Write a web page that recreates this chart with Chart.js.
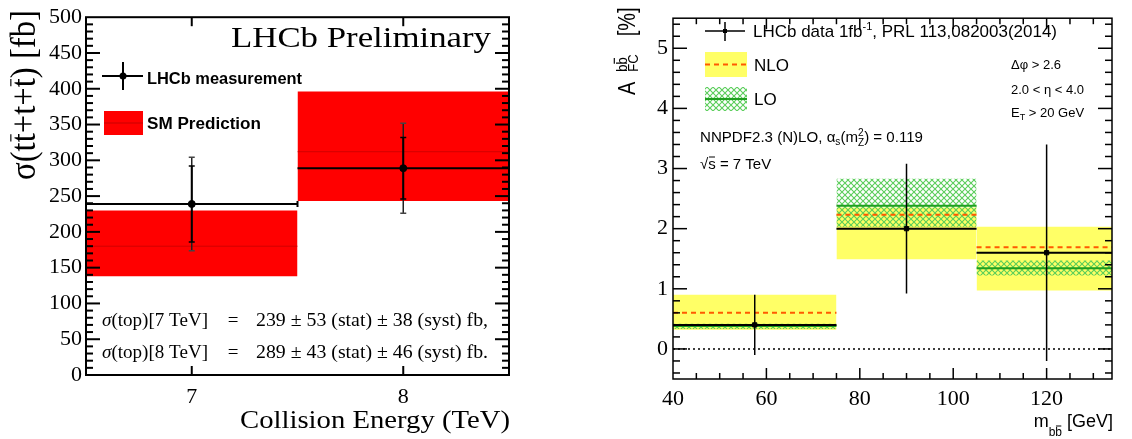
<!DOCTYPE html>
<html>
<head>
<meta charset="utf-8">
<script src="https://cdn.jsdelivr.net/npm/chart.js@4.4.1/dist/chart.umd.min.js"></script>
<style>
html, body { margin: 0; padding: 0; background: #fff; }
#page { position: relative; width: 1132px; height: 439px; overflow: hidden; }
#left-wrap { position: absolute; left: 0; top: 0; width: 560px; height: 439px; }
#right-wrap { position: absolute; left: 560px; top: 0; width: 572px; height: 439px; }
</style>
</head>
<body>
<div id="page">
    <div id="left-wrap"><canvas id="top-chart"></canvas></div>
    <div id="right-wrap"><canvas id="afc-chart"></canvas></div>
</div>
<script>
// ---- left panel: top cross-section vs collision energy ----
const energies = [7, 8];
const energyBinLo = [6.5, 7.5];
const energyBinHi = [7.5, 8.5];
const measured = [239, 289];
const statErr = [53, 43];
const systErr = [38, 46];
const smCentral = [180, 312];
const smLow = [138, 243];
const smHigh = [230, 396];
const leftXTicks = [7, 8];
const leftYTicks = [0, 50, 100, 150, 200, 250, 300, 350, 400, 450, 500];

// ---- right panel: forward-central asymmetry vs m(bb) ----
const massBinLo = [40, 75, 105];
const massBinHi = [75, 105, 135];
const massCenters = [57.5, 90, 120];
const afcData = [0.4, 2.0, 1.6];
const afcErr = [0.5, 1.08, 1.8];
const nloCentral = [0.6, 2.23, 1.69];
const nloLow = [0.32, 1.49, 0.97];
const nloHigh = [0.9, 2.35, 2.03];
const loCentral = [0.38, 2.38, 1.34];
const loLow = [0.33, 2.03, 1.22];
const loHigh = [0.42, 2.83, 1.47];
const zeroLine = [0, 0];
const rightXRange = [40, 134];
const rightXTicks = [40, 60, 80, 100, 120];
const rightYTicks = [0, 1, 2, 3, 4, 5];

const serif = '"Liberation Serif", "Times New Roman", serif';
const sans = '"Liberation Sans", Arial, Helvetica, sans-serif';
const f = (size, fam, style = '') => `${style} ${size}px ${fam}`.trim();

function binSegments(los, his, vals) {
    const pts = [];
    vals.forEach((v, i) => {
        pts.push({ x: los[i], y: v }, { x: his[i], y: v }, { x: his[i], y: null });
    });
    return pts;
}

function errorSegments(xs, vals, errs) {
    const pts = [];
    vals.forEach((v, i) => {
        pts.push({ x: xs[i], y: v - errs[i] }, { x: xs[i], y: v + errs[i] }, { x: xs[i], y: null });
    });
    return pts;
}

function bandDatasets(los, his, lows, highs, color, order) {
    return highs.map((h, i) => ({
        data: [{ x: los[i], y: h }, { x: his[i], y: h }],
        fill: { target: { value: lows[i] } },
        backgroundColor: color,
        borderColor: 'transparent',
        borderWidth: 0,
        pointRadius: 0,
        order
    }));
}

function makeHatch(color) {
    const c = document.createElement('canvas');
    c.width = 6;
    c.height = 6;
    const g = c.getContext('2d');
    g.strokeStyle = color;
    g.lineWidth = 1.1;
    g.beginPath();
    g.moveTo(-1, -1); g.lineTo(7, 7);
    g.moveTo(7, -1); g.lineTo(-1, 7);
    g.stroke();
    return g.createPattern(c, 'repeat');
}

function stepValues(min, max, step) {
    const out = [];
    const start = Math.ceil(min / step - 1e-9) * step;
    for (let v = start; v <= max + 1e-9; v += step) out.push(+v.toFixed(6));
    return out;
}

// text with sub/superscripts, optional stretch
function drawRuns(ctx, runs, x, y, opts = {}) {
    ctx.save();
    let cx = 0;
    let markX = 0;
    const placed = runs.map((r) => {
        ctx.font = r.font;
        const w = ctx.measureText(r.t).width;
        if (r.pad) cx += r.pad;
        if (r.mark) markX = cx;
        const x0 = r.back ? markX : cx;
        cx = r.back ? Math.max(cx, markX + w) : x0 + w;
        return { ...r, x: x0, w };
    });
    const width = cx;
    const sx = opts.width ? opts.width / width : (opts.sx || 1);
    ctx.translate(x, y);
    if (opts.rotate) ctx.rotate(opts.rotate);
    ctx.scale(sx, opts.sy || 1);
    let ox = 0;
    if (opts.align === 'right') ox = -width;
    if (opts.align === 'center') ox = -width / 2;
    ctx.fillStyle = '#000';
    ctx.strokeStyle = '#000';
    ctx.textAlign = 'left';
    ctx.textBaseline = 'alphabetic';
    placed.forEach((p) => {
        ctx.font = p.font;
        const px = ox + p.x;
        const py = p.dy || 0;
        ctx.fillText(p.t, px, py);
        if (p.over) {
            ctx.lineWidth = 1;
            ctx.beginPath();
            ctx.moveTo(px + p.w * 0.1, py + p.over);
            ctx.lineTo(px + p.w * 0.9, py + p.over);
            ctx.stroke();
        }
    });
    ctx.restore();
}

function makeFrame(cfg) {
    return {
        id: 'rootFrame',
        afterDatasetsDraw(chart) {
            const { ctx, chartArea: a, scales: { x, y } } = chart;
            ctx.save();
            ctx.strokeStyle = '#000';
            ctx.lineWidth = cfg.tickWidth;
            const line = (x1, y1, x2, y2) => {
                ctx.beginPath(); ctx.moveTo(x1, y1); ctx.lineTo(x2, y2); ctx.stroke();
            };
            const yTick = (v, len) => {
                const py = y.getPixelForValue(v);
                if (py < a.top + 1 || py > a.bottom - 1) return;
                line(a.left, py, a.left + len, py);
                line(a.right, py, a.right - len, py);
            };
            const xTick = (v, len) => {
                const px = x.getPixelForValue(v);
                if (px < a.left + 1 || px > a.right - 1) return;
                line(px, a.bottom, px, a.bottom - len);
                line(px, a.top, px, a.top + len);
            };
            cfg.yMajor.forEach((v) => yTick(v, cfg.yMajorLen));
            if (cfg.yMinorStep) {
                stepValues(y.min, y.max, cfg.yMinorStep)
                    .filter((v) => !cfg.yMajor.some((m) => Math.abs(m - v) < 1e-6))
                    .forEach((v) => yTick(v, cfg.yMinorLen));
            }
            cfg.xMajor.forEach((v) => xTick(v, cfg.xMajorLen));
            if (cfg.xMinorStep) {
                stepValues(x.min, x.max, cfg.xMinorStep)
                    .filter((v) => !cfg.xMajor.some((m) => Math.abs(m - v) < 1e-6))
                    .forEach((v) => xTick(v, cfg.xMinorLen));
            }
            ctx.lineWidth = cfg.frameWidth;
            ctx.strokeRect(a.left, a.top, a.right - a.left, a.bottom - a.top);
            ctx.restore();
        }
    };
}

function tickOpts(padding) {
    return {
        color: '#000',
        font: { family: serif, size: 22 },
        padding,
        autoSkip: false,
        maxRotation: 0,
        callback: (v) => String(v)
    };
}

// ---------- left chart ----------
function drawLeftText(chart) {
    const ctx = chart.ctx;
    drawRuns(ctx, [{ t: 'LHCb Preliminary', font: f(30, serif) }], 491, 47, { align: 'right', width: 260 });

    // legend
    ctx.save();
    ctx.strokeStyle = '#000';
    ctx.lineWidth = 2;
    ctx.beginPath();
    ctx.moveTo(102, 76); ctx.lineTo(143, 76);
    ctx.moveTo(123, 62); ctx.lineTo(123, 90);
    ctx.stroke();
    ctx.fillStyle = '#000';
    ctx.beginPath(); ctx.arc(123, 76, 3.5, 0, Math.PI * 2); ctx.fill();
    ctx.fillStyle = '#ff0000';
    ctx.fillRect(104, 111, 39, 24);
    ctx.strokeStyle = 'rgba(150,0,0,0.5)';
    ctx.lineWidth = 1;
    ctx.beginPath(); ctx.moveTo(104, 123); ctx.lineTo(143, 123); ctx.stroke();
    ctx.restore();
    drawRuns(ctx, [{ t: 'LHCb measurement', font: f(16, sans, 'bold') }], 147, 84, { width: 155 });
    drawRuns(ctx, [{ t: 'SM Prediction', font: f(16, sans, 'bold') }], 147, 129, { width: 114 });

    // result lines
    const baselines = [326, 358];
    energies.forEach((e, i) => {
        const b = baselines[i];
        drawRuns(ctx, [
            { t: 'σ', font: f(19, serif, 'italic') },
            { t: `(top)[${e} TeV]`, font: f(19, serif) }
        ], 102, b, { width: 106 });
        drawRuns(ctx, [{ t: '=', font: f(19, serif) }], 233, b, { align: 'center' });
        const tail = i === energies.length - 1 ? 'fb.' : 'fb,';
        drawRuns(ctx, [
            { t: `${measured[i]} ± ${statErr[i]} (stat) ± ${systErr[i]} (syst) ${tail}`, font: f(19, serif) }
        ], 256, b, { width: 232 });
    });

    // axis titles
    drawRuns(ctx, [{ t: 'Collision Energy (TeV)', font: f(26, serif) }], 510, 428, { align: 'right', width: 270 });
    drawRuns(ctx, [
        { t: 'σ(t', font: f(31, serif) },
        { t: 't', font: f(31, serif), over: -21 },
        { t: '+t+', font: f(31, serif) },
        { t: 't', font: f(31, serif), over: -21 },
        { t: ') [fb]', font: f(31, serif) }
    ], 35, 180, { rotate: -Math.PI / 2, width: 170, sy: 1.15 });
}

const totalErr = statErr.map((s, i) => Math.sqrt(s * s + systErr[i] * systErr[i]));

new Chart(document.getElementById('top-chart'), {
    type: 'line',
    data: {
        datasets: [
            {
                data: energies.map((e, i) => ({ x: e, y: measured[i] })),
                showLine: false,
                pointStyle: 'circle',
                pointRadius: 3.5,
                pointBackgroundColor: '#000',
                pointBorderColor: '#000',
                order: 0
            },
            {
                data: errorSegments(energies, measured, statErr),
                borderColor: '#000',
                borderWidth: 2,
                pointStyle: 'line',
                pointRadius: 3,
                pointBorderWidth: 1.5,
                pointBorderColor: '#000',
                order: 1
            },
            {
                data: errorSegments(energies, measured, totalErr),
                borderColor: '#222',
                borderWidth: 1.5,
                pointStyle: 'line',
                pointRadius: 3,
                pointBorderWidth: 1.5,
                pointBorderColor: '#444',
                order: 2
            },
            {
                data: binSegments(energyBinLo, energyBinHi, measured),
                borderColor: '#000',
                borderWidth: 2,
                pointStyle: 'line',
                pointRotation: 90,
                pointRadius: [0, 3, 0, 0, 0, 0],
                pointBorderWidth: 2,
                pointBorderColor: '#000',
                order: 3
            },
            {
                data: binSegments(energyBinLo, energyBinHi, smCentral),
                borderColor: 'rgba(190,0,0,0.7)',
                borderWidth: 1,
                pointRadius: 0,
                order: 4
            },
            ...bandDatasets(energyBinLo, energyBinHi, smLow, smHigh, '#ff0000', 5)
        ]
    },
    options: {
        responsive: true,
        maintainAspectRatio: false,
        animation: false,
        events: [],
        layout: { padding: { top: 12, right: 51, bottom: 0, left: 0 }, autoPadding: false },
        plugins: { legend: { display: false }, tooltip: { enabled: false } },
        scales: {
            x: {
                type: 'linear',
                min: 6.5,
                max: 8.5,
                grid: { display: false, drawTicks: false },
                border: { display: false },
                ticks: tickOpts(9),
                afterBuildTicks: (s) => { s.ticks = leftXTicks.map((v) => ({ value: v })); },
                afterFit: (s) => { s.height = 64; }
            },
            y: {
                type: 'linear',
                min: 0,
                max: 500,
                grid: { display: false, drawTicks: false },
                border: { display: false },
                ticks: tickOpts(4),
                afterBuildTicks: (s) => { s.ticks = leftYTicks.map((v) => ({ value: v })); },
                afterFit: (s) => { s.width = 86; }
            }
        }
    },
    plugins: [
        makeFrame({
            xMajor: leftXTicks, xMinorStep: 0, xMajorLen: 9, xMinorLen: 0,
            yMajor: leftYTicks, yMinorStep: 10, yMajorLen: 14, yMinorLen: 7,
            tickWidth: 2, frameWidth: 2
        }),
        { id: 'leftText', afterDraw: drawLeftText }
    ]
});

// ---------- right chart ----------
const yellow = '#ffff66';
const nloColor = '#ff5a00';
const loColor = '#1f9f1f';
const hatch = makeHatch('rgb(90,205,90)');

function drawRightText(chart) {
    const ctx = chart.ctx;
    ctx.save();
    // data legend entry
    ctx.strokeStyle = '#000';
    ctx.lineWidth = 1.5;
    ctx.beginPath();
    ctx.moveTo(145, 31); ctx.lineTo(185, 31);
    ctx.moveTo(165, 22); ctx.lineTo(165, 41);
    ctx.stroke();
    ctx.fillStyle = '#000';
    ctx.fillRect(163, 29, 4, 4);
    // NLO entry
    ctx.fillStyle = yellow;
    ctx.fillRect(145, 52, 42, 25);
    ctx.strokeStyle = nloColor;
    ctx.lineWidth = 2;
    ctx.setLineDash([5, 4]);
    ctx.beginPath(); ctx.moveTo(145, 64.5); ctx.lineTo(187, 64.5); ctx.stroke();
    ctx.setLineDash([]);
    // LO entry
    ctx.fillStyle = hatch;
    ctx.fillRect(145, 87, 42, 24);
    ctx.strokeStyle = loColor;
    ctx.beginPath(); ctx.moveTo(145, 99); ctx.lineTo(187, 99); ctx.stroke();
    ctx.restore();

    drawRuns(ctx, [
        { t: 'LHCb data 1fb', font: f(17, sans) },
        { t: '-1', font: f(11, sans), dy: -7 },
        { t: ', PRL 113,082003(2014)', font: f(17, sans) }
    ], 193, 37, { width: 304 });
    drawRuns(ctx, [{ t: 'NLO', font: f(17, sans) }], 194, 70.5);
    drawRuns(ctx, [{ t: 'LO', font: f(17, sans) }], 194, 105);

    drawRuns(ctx, [
        { t: 'NNPDF2.3 (N)LO, α', font: f(15, sans) },
        { t: 's', font: f(10, sans), dy: 3 },
        { t: '(m', font: f(15, sans) },
        { t: '2', font: f(10, sans), dy: -6, mark: true },
        { t: 'Z', font: f(10, sans), dy: 4, back: true },
        { t: ') = 0.119', font: f(15, sans) }
    ], 140, 142, { width: 223 });
    drawRuns(ctx, [
        { t: '√', font: f(15, sans) },
        { t: 's', font: f(15, sans), over: -12 },
        { t: ' = 7 TeV', font: f(15, sans) }
    ], 140, 169);

    drawRuns(ctx, [{ t: 'Δφ > 2.6', font: f(13, sans) }], 451, 69);
    drawRuns(ctx, [{ t: '2.0 < η < 4.0', font: f(13, sans) }], 451, 94);
    drawRuns(ctx, [
        { t: 'E', font: f(13, sans) },
        { t: 'T', font: f(9, sans), dy: 3 },
        { t: ' > 20 GeV', font: f(13, sans) }
    ], 451, 117);

    // axis titles
    drawRuns(ctx, [
        { t: 'm', font: f(18, sans) },
        { t: 'b', font: f(12, sans), dy: 9 },
        { t: 'b', font: f(12, sans), dy: 9, over: -10 },
        { t: ' [GeV]', font: f(18, sans) }
    ], 553, 427, { align: 'right' });
    drawRuns(ctx, [
        { t: 'A', font: f(20, sans) },
        { t: 'b', font: f(13, sans), dy: -7, pad: 10, mark: true },
        { t: 'b', font: f(13, sans), dy: -7, over: -11 },
        { t: 'FC', font: f(13, sans), dy: 3, back: true },
        { t: '[%]', font: f(20, sans), pad: 18 }
    ], 75, 95, { rotate: -Math.PI / 2, sy: 1.15 });
}

new Chart(document.getElementById('afc-chart'), {
    type: 'line',
    data: {
        datasets: [
            {
                data: massCenters.map((m, i) => ({ x: m, y: afcData[i] })),
                showLine: false,
                pointStyle: 'rect',
                pointRadius: 3,
                pointBackgroundColor: '#000',
                pointBorderColor: '#000',
                order: 0
            },
            {
                data: errorSegments(massCenters, afcData, afcErr),
                borderColor: '#000',
                borderWidth: 1.5,
                pointRadius: 0,
                order: 1
            },
            {
                data: binSegments(massBinLo, massBinHi, afcData),
                borderColor: '#000',
                borderWidth: 2,
                pointRadius: 0,
                order: 2
            },
            {
                data: binSegments(massBinLo, massBinHi, nloCentral),
                borderColor: nloColor,
                borderWidth: 2,
                borderDash: [5, 4],
                pointRadius: 0,
                order: 3
            },
            {
                data: binSegments(massBinLo, massBinHi, loCentral),
                borderColor: loColor,
                borderWidth: 2,
                pointRadius: 0,
                order: 4
            },
            ...bandDatasets(massBinLo, massBinHi, loLow, loHigh, hatch, 5),
            ...bandDatasets(massBinLo, massBinHi, nloLow, nloHigh, yellow, 6),
            {
                data: rightXRange.map((x, i) => ({ x, y: zeroLine[i] })),
                borderColor: '#000',
                borderWidth: 1.5,
                borderDash: [2, 3],
                pointRadius: 0,
                order: 7
            }
        ]
    },
    options: {
        responsive: true,
        maintainAspectRatio: false,
        animation: false,
        events: [],
        layout: { padding: { top: 7, right: 20, bottom: 0, left: 0 }, autoPadding: false },
        plugins: { legend: { display: false }, tooltip: { enabled: false } },
        scales: {
            x: {
                type: 'linear',
                min: rightXRange[0],
                max: rightXRange[1],
                grid: { display: false, drawTicks: false },
                border: { display: false },
                ticks: tickOpts(7),
                afterBuildTicks: (s) => { s.ticks = rightXTicks.map((v) => ({ value: v })); },
                afterFit: (s) => { s.height = 60; }
            },
            y: {
                type: 'linear',
                min: -0.5,
                max: 5.5,
                grid: { display: false, drawTicks: false },
                border: { display: false },
                ticks: tickOpts(5),
                afterBuildTicks: (s) => { s.ticks = rightYTicks.map((v) => ({ value: v })); },
                afterFit: (s) => { s.width = 113; }
            }
        }
    },
    plugins: [
        makeFrame({
            xMajor: rightXTicks, xMinorStep: 5, xMajorLen: 11, xMinorLen: 6,
            yMajor: rightYTicks, yMinorStep: 0.2, yMajorLen: 14, yMinorLen: 7,
            tickWidth: 1.5, frameWidth: 1.5
        }),
        { id: 'rightText', afterDraw: drawRightText }
    ]
});
</script>
</body>
</html>
